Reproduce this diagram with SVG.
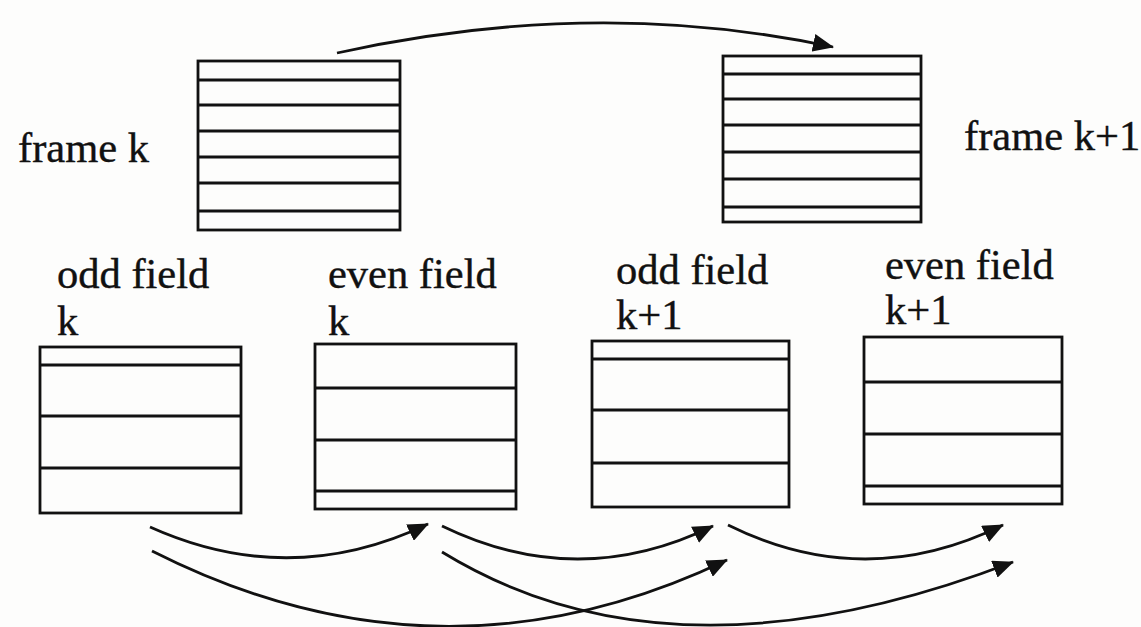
<svg xmlns="http://www.w3.org/2000/svg" width="1141" height="627" viewBox="0 0 1141 627">
<defs>
<style>
.box{fill:none;stroke:#111;stroke-width:2.8}
.ln{stroke:#111;stroke-width:2.8}
.t{font-family:"Liberation Serif","Times New Roman",serif;font-size:42.5px;fill:#111;stroke:#111;stroke-width:0.4}
.c{fill:none;stroke:#111;stroke-width:2.8}
</style>
<marker id="ah" markerUnits="userSpaceOnUse" viewBox="0 0 21 18" refX="20" refY="9" markerWidth="21" markerHeight="18" orient="auto">
<path d="M0,0 L21,9 L0,18 z" fill="#111"/>
</marker>
</defs>
<rect width="1141" height="627" fill="#fdfdfc"/>
<g id="frame-k">
<rect class="box" x="198" y="61" width="202" height="169"/>
<path class="ln" d="M198,80H400M198,105H400M198,131H400M198,157H400M198,183H400M198,211H400"/>
<text class="t" x="18" y="162">frame k</text>
</g>
<g id="frame-k1">
<rect class="box" x="723" y="56" width="198" height="166"/>
<path class="ln" d="M723,74H921M723,99H921M723,125H921M723,152H921M723,179H921M723,207H921"/>
<text class="t" x="964" y="150">frame k+1</text>
</g>
<g id="odd-field-k">
<rect class="box" x="40" y="347" width="201" height="166"/>
<path class="ln" d="M40,365H241M40,416H241M40,468H241"/>
<text class="t" x="57" y="288">odd field</text>
<text class="t" x="57" y="335">k</text>
</g>
<g id="even-field-k">
<rect class="box" x="315" y="344" width="201" height="165"/>
<path class="ln" d="M315,388H516M315,440H516M315,491H516"/>
<text class="t" x="328" y="288">even field</text>
<text class="t" x="328" y="335">k</text>
</g>
<g id="odd-field-k1">
<rect class="box" x="592" y="341" width="197" height="166"/>
<path class="ln" d="M592,359H789M592,410H789M592,463H789"/>
<text class="t" x="616" y="284">odd field</text>
<text class="t" x="616" y="329">k+1</text>
</g>
<g id="even-field-k1">
<rect class="box" x="864" y="337" width="198" height="167"/>
<path class="ln" d="M864,382H1062M864,434H1062M864,486H1062"/>
<text class="t" x="885" y="279">even field</text>
<text class="t" x="885" y="324">k+1</text>
</g>
<g id="connectors">
<path class="c" marker-end="url(#ah)" d="M337,53 Q595,-4 833,47"/>
<path class="c" marker-end="url(#ah)" d="M150,527 Q290,590 428,524"/>
<path class="c" marker-end="url(#ah)" d="M152,551 Q440,697 727,560"/>
<path class="c" marker-end="url(#ah)" d="M442,526 Q578,592 713,526"/>
<path class="c" marker-end="url(#ah)" d="M442,552 Q672,693 1013,562"/>
<path class="c" marker-end="url(#ah)" d="M728,525 Q865,593 1003,525"/>
</g>
</svg>
